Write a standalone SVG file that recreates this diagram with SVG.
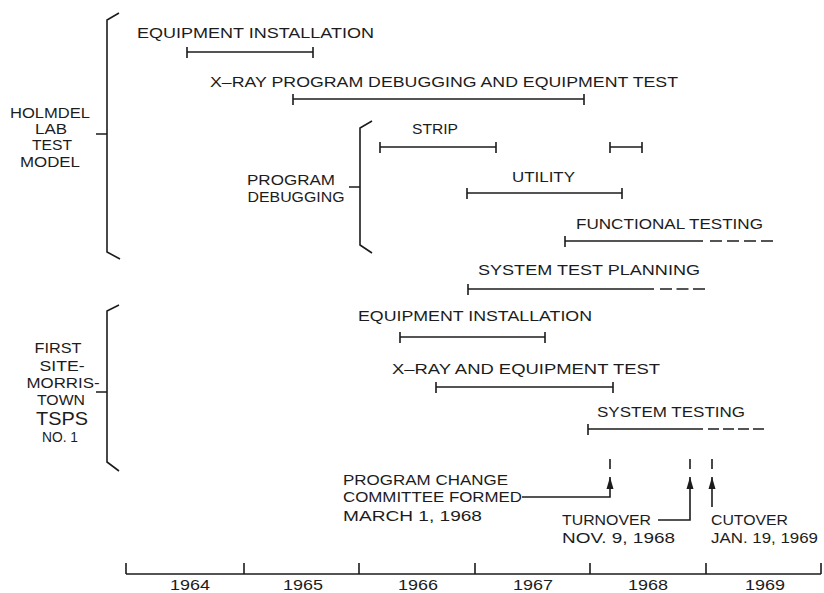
<svg xmlns="http://www.w3.org/2000/svg" width="824" height="593" viewBox="0 0 824 593">
<defs>
<style>
.bg{fill:#ffffff}
text{font-family:"Liberation Sans","DejaVu Sans",Arial,sans-serif;fill:#1c1c1c;font-size:15px}
.side{font-size:14px}
.big{font-size:18px}
.yr{font-size:15px}
.ln{stroke:#1c1c1c;stroke-width:1.6;fill:none}
.dash{stroke:#1c1c1c;stroke-width:1.6;fill:none}
.ah{fill:#1c1c1c}
</style>
<marker id="arr" viewBox="0 0 12 8" refX="12" refY="4" markerWidth="12" markerHeight="8" orient="auto" markerUnits="userSpaceOnUse">
<path d="M0,0.5 L12,4 L0,7.5 z" class="ah"/>
</marker>
</defs>
<rect class="bg" x="0" y="0" width="824" height="593"/>

<g id="holmdel">
<path class="ln" d="M119,13 L107,20 L107,252 L120,259 M96,134 L107,134"/>
<text class="side" x="50" y="118" text-anchor="middle" textLength="80" lengthAdjust="spacingAndGlyphs">HOLMDEL</text>
<text class="side" x="51" y="134" text-anchor="middle" textLength="32" lengthAdjust="spacingAndGlyphs">LAB</text>
<text class="side" x="52" y="150" text-anchor="middle" textLength="40" lengthAdjust="spacingAndGlyphs">TEST</text>
<text class="side" x="50" y="167" text-anchor="middle" textLength="60" lengthAdjust="spacingAndGlyphs">MODEL</text>
</g>

<g id="program-debugging">
<path class="ln" d="M372,121 L360,128 L360,245 L372,253 M349,187 L360,187"/>
<text class="side" x="291" y="185" text-anchor="middle" textLength="88" lengthAdjust="spacingAndGlyphs">PROGRAM</text>
<text class="side" x="296" y="202" text-anchor="middle" textLength="97" lengthAdjust="spacingAndGlyphs">DEBUGGING</text>
</g>

<g id="first-site">
<path class="ln" d="M119,305 L107,311 L107,462 L119,471 M96,392 L107,392"/>
<text class="side" x="58" y="353" text-anchor="middle" textLength="47" lengthAdjust="spacingAndGlyphs">FIRST</text>
<text class="side" x="62" y="371" text-anchor="middle" textLength="45" lengthAdjust="spacingAndGlyphs">SITE-</text>
<text class="side" x="63" y="388" text-anchor="middle" textLength="73" lengthAdjust="spacingAndGlyphs">MORRIS-</text>
<text class="side" x="61" y="405" text-anchor="middle" textLength="48" lengthAdjust="spacingAndGlyphs">TOWN</text>
<text class="big" x="62" y="425" text-anchor="middle" textLength="52" lengthAdjust="spacingAndGlyphs">TSPS</text>
<text class="side" x="60" y="442" text-anchor="middle" textLength="36" lengthAdjust="spacingAndGlyphs">NO. 1</text>
</g>

<g id="equip-install-1">
<text x="137" y="38" textLength="237" lengthAdjust="spacingAndGlyphs">EQUIPMENT  INSTALLATION</text>
<path class="ln" d="M187,52 H313 M187,47 V58 M313,47 V58"/>
</g>
<g id="xray-program">
<text x="210" y="87" textLength="468" lengthAdjust="spacingAndGlyphs">X–RAY  PROGRAM  DEBUGGING  AND  EQUIPMENT  TEST</text>
<path class="ln" d="M293,99 H584 M293,94 V105 M584,94 V105"/>
</g>
<g id="strip">
<text x="412" y="134" textLength="46" lengthAdjust="spacingAndGlyphs">STRIP</text>
<path class="ln" d="M380,147 H496 M380,142 V153 M496,142 V153"/>
<path class="ln" d="M610,147 H642 M610,142 V153 M642,142 V153"/>
</g>
<g id="utility">
<text x="512" y="182" textLength="63" lengthAdjust="spacingAndGlyphs">UTILITY</text>
<path class="ln" d="M467,193 H622 M467,188 V199 M622,188 V199"/>
</g>
<g id="functional-testing">
<text x="576" y="229" textLength="187" lengthAdjust="spacingAndGlyphs">FUNCTIONAL TESTING</text>
<path class="ln" d="M565,241 H703 M565,236 V247"/>
<path class="dash" d="M710,241 H773" stroke-dasharray="12 5"/>
</g>
<g id="system-test-planning">
<text x="478" y="275" textLength="222" lengthAdjust="spacingAndGlyphs">SYSTEM  TEST  PLANNING</text>
<path class="ln" d="M468,289 H654 M468,284 V295"/>
<path class="dash" d="M660,289 H705" stroke-dasharray="12 4.5"/>
</g>

<g id="equip-install-2">
<text x="358" y="321" textLength="234" lengthAdjust="spacingAndGlyphs">EQUIPMENT  INSTALLATION</text>
<path class="ln" d="M400,337 H545 M400,332 V343 M545,332 V343"/>
</g>
<g id="xray-equip">
<text x="392" y="374" textLength="268" lengthAdjust="spacingAndGlyphs">X–RAY  AND  EQUIPMENT  TEST</text>
<path class="ln" d="M436,387 H613 M436,382 V393 M613,382 V393"/>
</g>
<g id="system-testing">
<text x="597" y="417" textLength="148" lengthAdjust="spacingAndGlyphs">SYSTEM  TESTING</text>
<path class="ln" d="M588,429 H703 M588,424 V435"/>
<path class="dash" d="M708,429 H764" stroke-dasharray="11 4"/>
</g>

<g id="program-change">
<text x="343" y="485" textLength="165" lengthAdjust="spacingAndGlyphs">PROGRAM  CHANGE</text>
<text x="343" y="502" textLength="179" lengthAdjust="spacingAndGlyphs">COMMITTEE  FORMED</text>
<text x="343" y="521" textLength="139" lengthAdjust="spacingAndGlyphs">MARCH  1,  1968</text>
</g>
<g id="turnover">
<text x="562" y="525" textLength="89" lengthAdjust="spacingAndGlyphs">TURNOVER</text>
<text x="562" y="543" textLength="113" lengthAdjust="spacingAndGlyphs">NOV. 9,  1968</text>
</g>
<g id="cutover">
<text x="711" y="525" textLength="77" lengthAdjust="spacingAndGlyphs">CUTOVER</text>
<text x="711" y="543" textLength="107" lengthAdjust="spacingAndGlyphs">JAN. 19, 1969</text>
</g>

<g id="connectors">
<path class="ln" d="M610,459 V469 M690,459 V469 M712,459 V469"/>
<path class="ln" d="M522,497 H610 V477" marker-end="url(#arr)"/>
<path class="ln" d="M658,520 H690 V477" marker-end="url(#arr)"/>
<path class="ln" d="M712,507 V477" marker-end="url(#arr)"/>
</g>

<g id="axis">
<path class="ln" d="M126,574 H821 M126,563 V574 M244,563 V574 M359,563 V574 M475,563 V574 M590,563 V574 M706,563 V574 M821,563 V574"/>
<text class="yr" x="190" y="590" text-anchor="middle" textLength="40" lengthAdjust="spacingAndGlyphs">1964</text>
<text class="yr" x="303" y="590" text-anchor="middle" textLength="40" lengthAdjust="spacingAndGlyphs">1965</text>
<text class="yr" x="418" y="590" text-anchor="middle" textLength="40" lengthAdjust="spacingAndGlyphs">1966</text>
<text class="yr" x="533" y="590" text-anchor="middle" textLength="40" lengthAdjust="spacingAndGlyphs">1967</text>
<text class="yr" x="648" y="590" text-anchor="middle" textLength="40" lengthAdjust="spacingAndGlyphs">1968</text>
<text class="yr" x="765" y="590" text-anchor="middle" textLength="40" lengthAdjust="spacingAndGlyphs">1969</text>
</g>
</svg>
